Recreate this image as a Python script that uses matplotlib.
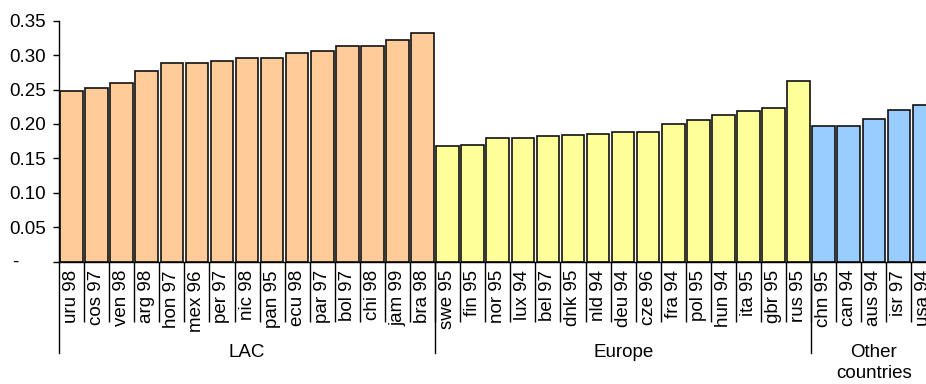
import matplotlib
matplotlib.use("Agg")
import matplotlib.pyplot as plt
import matplotlib.transforms as mtransforms
import numpy as np

plt.rcParams['font.family'] = ['Liberation Sans', 'DejaVu Sans']

lac_labels = ["uru 98", "cos 97", "ven 98", "arg 98", "hon 97", "mex 96", "per 97", "nic 98",
              "pan 95", "ecu 98", "par 97", "bol 97", "chi 98", "jam 99", "bra 98"]
lac_values = [0.248, 0.252, 0.260, 0.277, 0.288, 0.288, 0.292, 0.296,
              0.296, 0.303, 0.306, 0.313, 0.313, 0.322, 0.332]

eur_labels = ["swe 95", "fin 95", "nor 95", "lux 94", "bel 97", "dnk 95", "nld 94", "deu 94",
              "cze 96", "fra 94", "pol 95", "hun 94", "ita 95", "gbr 95", "rus 95"]
eur_values = [0.168, 0.170, 0.179, 0.180, 0.183, 0.184, 0.185, 0.188,
              0.189, 0.200, 0.206, 0.213, 0.219, 0.223, 0.262]

oth_labels = ["chn 95", "can 94", "aus 94", "isr 97", "usa 94"]
oth_values = [0.197, 0.197, 0.207, 0.220, 0.227]

groups = ["LAC", "Europe", "Other\ncountries"]
group_colors = ["#FFCC99", "#FFFF99", "#99CCFF"]
yticks = [0, 0.05, 0.10, 0.15, 0.20, 0.25, 0.30, 0.35]

FS = 13.5
W, H = 926, 384
fig = plt.figure(figsize=(W / 100, H / 100), dpi=100)
ax_left, ax_right = 59, 926
ax_top, ax_bot = 20.7, 261.7
ax = fig.add_axes([ax_left / W, 1 - ax_bot / H, (ax_right - ax_left) / W, (ax_bot - ax_top) / H])

all_labels = lac_labels + eur_labels + oth_labels
group_data = [(lac_labels, lac_values), (eur_labels, eur_values), (oth_labels, oth_values)]
start = 0
bounds = []
for (labs, vals), col in zip(group_data, group_colors):
    x = np.arange(start, start + len(labs))
    ax.bar(x, vals, width=0.9, color=col, edgecolor="#111111", linewidth=1.2, zorder=2)
    bounds.append((start - 0.5, start + len(labs) - 0.5))
    start += len(labs)

n = len(all_labels)
ax.set_xlim(-0.5, 34.08)
ax.set_ylim(0, 0.35)

ax.spines['top'].set_visible(False)
ax.spines['right'].set_visible(False)
ax.spines['left'].set_linewidth(1.0)
ax.spines['bottom'].set_linewidth(1.0)

ax.set_yticks(yticks)
ax.set_yticklabels([""] + ["%.2f" % v for v in yticks[1:]], fontsize=FS)
ax.tick_params(axis='y', direction='out', length=4.5, width=1, pad=5)
fig.text(12 / W, 1 - 262.5 / H, "-", fontsize=FS, ha='left', va='center')

ax.set_xticks(np.arange(n))
ax.set_xticklabels(all_labels, rotation=90, fontsize=FS, va='top', ha='center')
ax.tick_params(axis='x', which='major', length=0, pad=6)
ax.set_xticks(np.arange(n - 1) + 0.5, minor=True)
ax.tick_params(axis='x', which='minor', length=43, width=1, direction='out')

trans = mtransforms.blended_transform_factory(ax.transData, ax.transAxes)
line_bottom = -(353 - ax_bot) / (ax_bot - ax_top)
text_top = -(344 - ax_bot) / (ax_bot - ax_top)
for (b0, b1), g in zip(bounds, groups):
    ax.plot([b0, b0], [0, line_bottom], color='black', lw=1, transform=trans, clip_on=False)
    ax.text((b0 + b1) / 2, text_top, g, transform=trans, ha='center', va='top',
            fontsize=FS, linespacing=1.3)

fig.savefig("out.png", dpi=100)
